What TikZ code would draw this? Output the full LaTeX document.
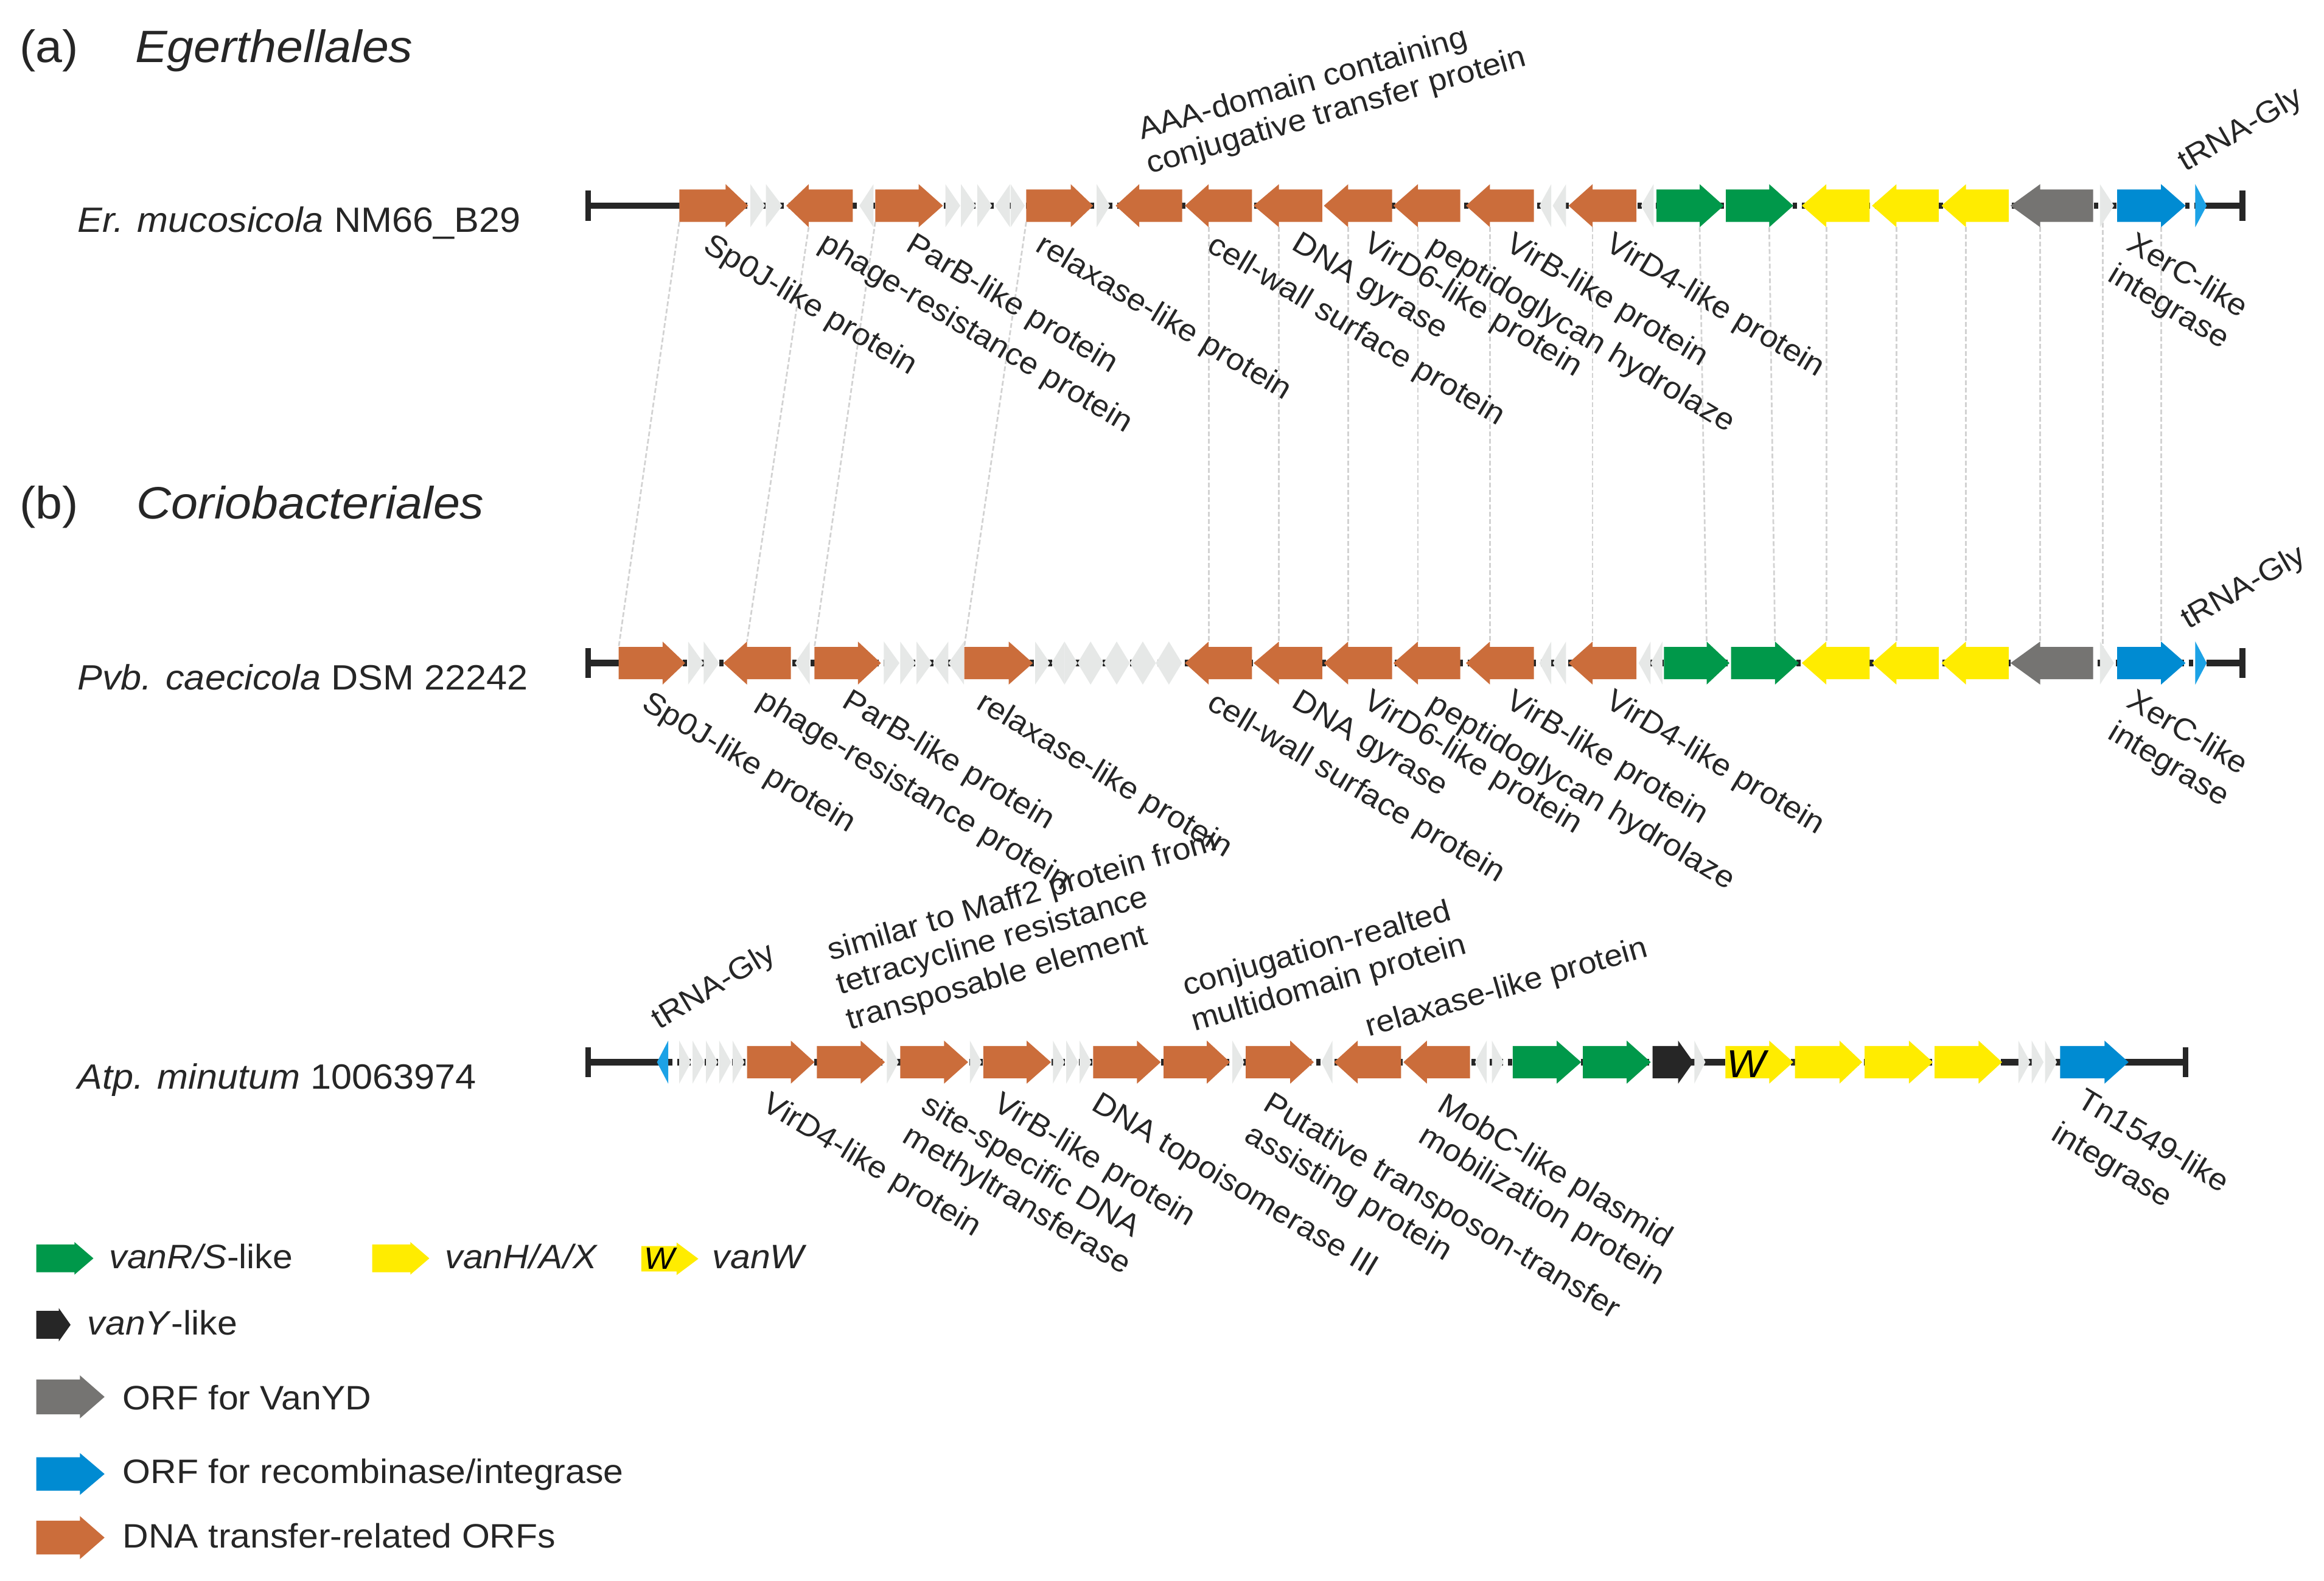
\documentclass[tikz,border=0pt]{standalone}
\usepackage{fontspec}
\setmainfont{Liberation Sans}[FakeStretch=1.06]
\definecolor{orf}{HTML}{CB6D3B}
\definecolor{vrs}{HTML}{00984A}
\definecolor{vha}{HTML}{FFEC00}
\definecolor{vyd}{HTML}{757472}
\definecolor{rec}{HTML}{008BD2}
\definecolor{trnac}{HTML}{1CA2E6}
\definecolor{vy}{HTML}{262626}
\definecolor{chev}{HTML}{E6E8E7}
\definecolor{txt}{HTML}{262626}
\definecolor{homolc}{HTML}{D2D2D2}
\definecolor{bbc}{HTML}{262626}
\newcommand\trY{0}
\newcommand\bodyH{10.9}
\newcommand\headH{14.5}
\newcommand\mygene[4]{\fill[#4] (#1,\trY-\bodyH) -- (#2,\trY-\bodyH) -- (#2,\trY-\headH) -- (#3,\trY) -- (#2,\trY+\headH) -- (#2,\trY+\bodyH) -- (#1,\trY+\bodyH) -- cycle;}
\newcommand\mytri[3][chev]{\fill[#1] (#2,\trY-\headH) -- (#3,\trY) -- (#2,\trY+\headH) -- cycle;}
\newcommand\backbone[4]{%
  \draw[bb] (#1,\trY) -- (#2,\trY);
  \draw[bb,dash pattern=on 1.4pt off 1.6pt] (#2,\trY) -- (#3,\trY);
  \draw[bb] (#3,\trY) -- (#4,\trY);
  \draw[bar] (#1,\trY-10.2) -- (#1,\trY+10.2);
  \draw[bar] (#4,\trY-10.2) -- (#4,\trY+10.2);}
\newcommand\lgene[7]{\fill[#7] (#1,#4-#5) -- (#2,#4-#5) -- (#2,#4-#6) -- (#3,#4) -- (#2,#4+#6) -- (#2,#4+#5) -- (#1,#4+#5) -- cycle;}
\begin{document}
\begin{tikzpicture}[x=0.4874pt,y=-0.4874pt,
  bb/.style={line width=2.1pt,draw=bbc},
  bar/.style={line width=1.9pt,draw=bbc},
  homol/.style={draw=homolc,line width=0.55pt,dash pattern=on 1.6pt off 0.8pt},
  lbl/.style={font=\fontsize{10.1pt}{12pt}\selectfont,text=txt,inner sep=0pt,outer sep=0pt,align=left},
  belowlbl/.style={lbl,rotate=-31,anchor=north west},
  abovelbl/.style={lbl,rotate=16,anchor=base west},
  trnalbl/.style={lbl,rotate=30,anchor=base west},
  species/.style={font=\fontsize{11.55pt}{14pt}\selectfont,text=txt,inner sep=0pt,anchor=base west},
  heading/.style={font=\fontsize{14.9pt}{18pt}\selectfont,text=txt,inner sep=0pt,anchor=base west},
  legtext/.style={font=\fontsize{11.13pt}{14pt}\selectfont,text=txt,inner sep=0pt,anchor=base west}]
\useasboundingbox (0,0) rectangle (1567.1,1065.7);
\fill[white] (0,0) rectangle (1567.1,1065.7);

% ---------- homology lines between (a) and (b)
\foreach \i/\xa/\ya/\xb/\yb in {1/458.1/149.6/417.2/436.2, 2/545.3/153.2/503.7/432.6,
  3/590.2/149.6/549.2/436.2, 4/692/149.6/650.2/436.2, 5/815/153.2/815/432.6,
  6/862.4/153.2/862.4/432.6, 7/909.1/153.2/909.1/432.6, 8/956.1/153.2/956.1/432.6,
  9/1004.7/153.2/1004.7/432.6, 10/1073.9/153.2/1073.9/432.6, 11/1146.1/153.2/1150.8/432.6,
  12/1193/153.2/1196.9/432.6, 13/1231.5/153.2/1231.5/432.6, 14/1278.8/153.2/1278.8/432.6,
  15/1325.7/153.2/1325.7/432.6, 16/1375.7/153.2/1375.7/432.6, 17/1418/150/1418/436,
  18/1457.2/153.2/1457.2/432.6}{
  \coordinate (hma\i) at (\xa,\ya);
  \coordinate (hmb\i) at (\xb,\yb);
  \draw[homol] (hma\i) -- (hmb\i);
}

% ---------- track (a)
\renewcommand\trY{138.7}
\backbone{396.6}{458.1}{1488}{1512.2}
\mytri{506}{516}\mytri{516.5}{527.5}
\mytri{589}{579.5}
\mytri{637.5}{647.5}\mytri{648}{658}\mytri{659}{669}\mytri{681}{671}\mytri{681.5}{691}
\mytri{739.5}{748.5}
\mytri{1046}{1038}\mytri{1056}{1047}
\mytri{1115}{1106.5}
\mytri{1416}{1425.5}
\mygene{458.1}{489.3}{504.5}{orf}
\mygene{575.0}{545.3}{530.2}{orf}
\mygene{590.2}{619.5}{635.8}{orf}
\mygene{692}{722}{737.1}{orf}
\mygene{797.1}{768.2}{752.3}{orf}
\mygene{844.2}{815}{799}{orf}
\mygene{891.6}{862.4}{845.3}{orf}
\mygene{938.7}{909.1}{892.7}{orf}
\mygene{984.7}{956.1}{939.6}{orf}
\mygene{1034.3}{1004.7}{988.5}{orf}
\mygene{1103.5}{1073.9}{1057.7}{orf}
\mygene{1117}{1146.1}{1162.3}{vrs}
\mygene{1163.8}{1193}{1209.2}{vrs}
\mygene{1260.7}{1231.5}{1215}{vha}
\mygene{1307.3}{1278.8}{1262.3}{vha}
\mygene{1354.5}{1325.7}{1309.2}{vha}
\mygene{1411.4}{1375.7}{1355.7}{vyd}
\mygene{1427.6}{1457.2}{1473.7}{rec}
\mytri[trnac]{1480.3}{1488}

% ---------- track (b)
\renewcommand\trY{447.1}
\backbone{396.6}{417.2}{1488}{1512.2}
\mytri{464}{474.5}\mytri{474.5}{485}
\mytri{546}{536}
\mytri{596}{606.5}\mytri{607}{617.5}\mytri{618}{628.5}\mytri{639.5}{629}\mytri{650}{639.5}
\mytri{698}{708}
\foreach \s in {709,726.6,744.2,761.8,779.4}{
  \pgfmathsetmacro\m{\s+8.8}\pgfmathsetmacro\e{\s+17.6}
  \mytri{\m}{\s}\mytri{\m}{\e}}
\mytri{1046}{1038}\mytri{1056}{1047}
\mytri{1113}{1105}\mytri{1121}{1113}
\mytri{1416}{1425.5}
\mygene{417.2}{446.8}{462}{orf}
\mygene{533.3}{503.7}{487.8}{orf}
\mygene{549.2}{578.5}{594}{orf}
\mygene{650.2}{680.2}{696.5}{orf}
\mygene{844.2}{815}{799}{orf}
\mygene{891.6}{862.4}{845.3}{orf}
\mygene{938.7}{909.1}{892.7}{orf}
\mygene{984.7}{956.1}{939.6}{orf}
\mygene{1034.3}{1004.7}{988.5}{orf}
\mygene{1103.5}{1073.9}{1057.7}{orf}
\mygene{1122}{1150.8}{1166.2}{vrs}
\mygene{1167.3}{1196.9}{1213}{vrs}
\mygene{1260.7}{1231.5}{1215}{vha}
\mygene{1307.3}{1278.8}{1262.3}{vha}
\mygene{1354.5}{1325.7}{1309.2}{vha}
\mygene{1411.4}{1375.7}{1355.7}{vyd}
\mygene{1427.6}{1457.2}{1473.7}{rec}
\mytri[trnac]{1480.3}{1488}

% ---------- track (c)
\renewcommand\trY{716.2}
\backbone{396.6}{450.6}{1389.2}{1473.7}
\draw[bb] (1141.9,\trY) -- (1163.5,\trY);
\draw[bb] (1350,\trY) -- (1361,\trY);
\mytri[trnac]{450.6}{443}
\foreach \s in {458,467,476,485,494}{\pgfmathsetmacro\e{\s+8}\mytri{\s}{\e}}
\mytri{598}{606}
\mytri{654}{662}
\mytri{710}{718}\mytri{719}{727}\mytri{728}{736}
\mytri{831}{839}
\mytri{898.5}{891}
\mytri{1002.5}{994.5}\mytri{1006}{1014}
\mytri{1142.5}{1150}
\mytri{1361}{1369}\mytri{1370}{1378}\mytri{1379}{1387}
\mygene{503.7}{533.3}{549.2}{orf}
\mygene{550.8}{580.4}{596.7}{orf}
\mygene{607}{636.6}{652.8}{orf}
\mygene{663.1}{692.3}{708.7}{orf}
\mygene{737.1}{766.7}{782.7}{orf}
\mygene{784.6}{813.8}{829.4}{orf}
\mygene{840}{870}{885.9}{orf}
\mygene{944.8}{915.5}{899.6}{orf}
\mygene{991.2}{962.2}{946.3}{orf}
\mygene{1020.1}{1049.7}{1066.2}{vrs}
\mygene{1067.3}{1096.9}{1113.1}{vrs}
\mygene{1114.3}{1131.6}{1141.9}{vy}
\mygene{1163.5}{1193}{1209.2}{vha}
\mygene{1210.4}{1240.4}{1255.7}{vha}
\mygene{1257.3}{1287.2}{1303.4}{vha}
\mygene{1304.5}{1334.2}{1350}{vha}
\mygene{1389.2}{1419.1}{1435.3}{rec}
\node[font=\fontsize{12.8pt}{15pt}\selectfont\itshape,text=black,inner sep=0pt,anchor=base west] (wgene) at (1164,726.5) {W};

% ---------- headings and species
\node[heading] (hda) at (13,41.9) {(a)};
\node[heading] (hdA) at (90.7,41.9) {\textit{Egerthellales}};
\node[heading] (hdb) at (13,349.8) {(b)};
\node[heading] (hdB) at (91.9,349.8) {\textit{Coriobacteriales}};
\node[species] (spa) at (51.8,156.6) {\textit{Er. mucosicola} NM66\_B29};
\node[species] (spb) at (51.8,465) {\textit{Pvb. caecicola} DSM 22242};
\node[species] (spc) at (51.8,734.2) {\textit{Atp. minutum} 10063974};

% ---------- labels (a)
\node[belowlbl] (la1) at (481,156) {Sp0J-like protein};
\node[belowlbl] (la2) at (559.2,154.6) {phage-resistance protein};
\node[belowlbl] (la3) at (617.5,155.5) {ParB-like protein};
\node[belowlbl] (la4) at (705.3,156) {relaxase-like protein};
\node[belowlbl] (la5) at (820.9,156) {cell-wall surface protein};
\node[belowlbl] (la6) at (877.3,155.6) {DNA gyrase};
\node[belowlbl] (la7) at (925.7,154.8) {VirD6-like protein};
\node[belowlbl] (la8) at (969.5,157) {peptidoglycan hydrolaze};
\node[belowlbl] (la9) at (1022,155) {VirB-like protein};
\node[belowlbl] (la10) at (1089.2,155) {VirD4-like protein};
\node[belowlbl] (la11) at (1441,155) {XerC-like\\integrase};
\node[abovelbl] (la12) at (769.8,94.3) {AAA-domain containing};
\node[abovelbl] (la13) at (775.3,117.2) {conjugative transfer protein};
\node[trnalbl] (la14) at (1473.7,115.9) {tRNA-Gly};

% ---------- labels (b)
\node[belowlbl] (lb1) at (439.5,464.5) {Sp0J-like protein};
\node[belowlbl] (lb2) at (517.3,463.1) {phage-resistance protein};
\node[belowlbl] (lb3) at (574.7,463.3) {ParB-like protein};
\node[belowlbl] (lb4) at (665.3,464.5) {relaxase-like protein};
\node[belowlbl] (lb5) at (820.9,464.4) {cell-wall surface protein};
\node[belowlbl] (lb6) at (877.3,464) {DNA gyrase};
\node[belowlbl] (lb7) at (925.7,463.2) {VirD6-like protein};
\node[belowlbl] (lb8) at (969.5,465.4) {peptidoglycan hydrolaze};
\node[belowlbl] (lb9) at (1022,463.4) {VirB-like protein};
\node[belowlbl] (lb10) at (1089.2,463.4) {VirD4-like protein};
\node[belowlbl] (lb11) at (1441,463.4) {XerC-like\\integrase};
\node[trnalbl] (lb14) at (1475.6,424.6) {tRNA-Gly};

% ---------- labels (c)
\node[belowlbl] (lc1) at (520.4,734.9) {VirD4-like protein};
\node[belowlbl] (lc2) at (628.1,735.7) {site-specific DNA\\methyltransferase};
\node[belowlbl] (lc3) at (676.4,734.8) {VirB-like protein};
\node[belowlbl] (lc4) at (742.7,734.8) {DNA topoisomerase III};
\node[belowlbl] (lc5) at (858.6,734.8) {Putative transposon-transfer\\assisting protein};
\node[belowlbl] (lc6) at (975.8,735.7) {MobC-like plasmid\\mobilization protein};
\node[belowlbl] (lc7) at (1407,732.5) {Tn1549-like};
\node[belowlbl] (lc8) at (1390,755) {integrase};
\node[lbl,rotate=31,anchor=base west] (lc9) at (444.8,694.3) {tRNA-Gly};
\node[abovelbl] (lc10) at (560.5,647.8) {similar to Maff2 protein from};
\node[abovelbl] (lc11) at (566.3,670.5) {tetracycline resistance};
\node[abovelbl] (lc12) at (573,694.5) {transposable element};
\node[abovelbl] (lc13) at (799.8,671.6) {conjugation-realted};
\node[abovelbl] (lc14) at (805.5,695.4) {multidomain protein};
\node[abovelbl] (lc15) at (923,699) {relaxase-like protein};

% ---------- legend
\lgene{24.5}{50.2}{63}{848.5}{9.35}{11}{vrs}
\lgene{251}{276.7}{289.5}{848.5}{9.35}{11}{vha}
\lgene{432.4}{456.2}{470.9}{848.8}{8.6}{11}{vha}
\lgene{24.5}{39.6}{47.6}{893.3}{9.35}{11.3}{vy}
\lgene{24.5}{53.9}{70.5}{941.9}{11.75}{14.5}{vyd}
\lgene{24.5}{53.9}{70.5}{993.9}{11.3}{14.1}{rec}
\lgene{24.5}{53.9}{70.5}{1036.8}{11.4}{14.5}{orf}
\node[font=\fontsize{10.1pt}{12pt}\selectfont\itshape,text=black,inner sep=0pt,anchor=base west] (wleg) at (434,855.6) {W};
\node[legtext] (lg1) at (73.3,855.5) {\textit{vanR/S}-like};
\node[legtext] (lg2) at (299.8,855.5) {\textit{vanH/A/X}};
\node[legtext] (lg3) at (480,855.5) {\textit{vanW}};
\node[legtext] (lg4) at (58.6,900) {\textit{vanY}-like};
\node[legtext] (lg5) at (82.4,950.4) {ORF for VanYD};
\node[legtext] (lg6) at (82.4,1000) {ORF for recombinase/integrase};
\node[legtext] (lg7) at (82.4,1043.6) {DNA transfer-related ORFs};
\end{tikzpicture}
\end{document}
